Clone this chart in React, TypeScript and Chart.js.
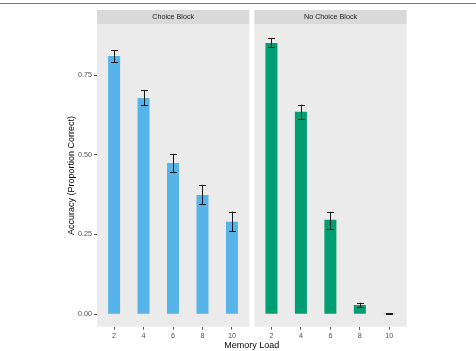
import React, { useEffect, useRef } from 'react';
import { Chart, registerables } from 'chart.js';

Chart.register(...registerables);

// ---- data ----
const LOADS = [2, 4, 6, 8, 10];
const PANELS = ['Choice Block', 'No Choice Block'];
const CHOICE_ACC = [0.81, 0.678, 0.474, 0.374, 0.29];
const CHOICE_LO = [0.79, 0.655, 0.446, 0.345, 0.26];
const CHOICE_HI = [0.828, 0.703, 0.503, 0.406, 0.322];
const NOCHOICE_ACC = [0.85, 0.635, 0.296, 0.029, 0.002];
const NOCHOICE_LO = [0.837, 0.613, 0.268, 0.023, 0.001];
const NOCHOICE_HI = [0.866, 0.657, 0.321, 0.036, 0.003];
const Y_TICKS = [0, 0.25, 0.5, 0.75];

// ---- layout of facets on a shared linear x scale ----
const PANEL_MIN = 0.84;
const PANEL_SPAN = 10.34;
const PANEL_GAP = 0.34;
const PANEL_OFFSET = PANEL_SPAN + PANEL_GAP;
const X_MIN = PANEL_MIN;
const X_MAX = PANEL_MIN + PANEL_OFFSET + PANEL_SPAN;
const Y_MIN = -0.039;
const Y_MAX = 0.909;

const FONT = '"Liberation Sans", Arial, Helvetica, sans-serif';
const ERR_LO = [CHOICE_LO, NOCHOICE_LO];
const ERR_HI = [CHOICE_HI, NOCHOICE_HI];

const facetPlugin = {
  id: 'facets',
  beforeDraw(chart: any) {
    const { ctx, chartArea, scales } = chart;
    const x = scales.x;
    ctx.save();
    // outer top rule
    ctx.strokeStyle = '#7a7a7a';
    ctx.lineWidth = 1;
    ctx.beginPath();
    ctx.moveTo(0, 3.5);
    ctx.lineTo(chart.width, 3.5);
    ctx.stroke();
    PANELS.forEach((name, i) => {
      const l = x.getPixelForValue(PANEL_MIN + i * PANEL_OFFSET);
      const r = x.getPixelForValue(PANEL_MIN + i * PANEL_OFFSET + PANEL_SPAN);
      ctx.fillStyle = '#EBEBEB';
      ctx.fillRect(l, chartArea.top, r - l, chartArea.bottom - chartArea.top);
      ctx.fillStyle = '#D9D9D9';
      ctx.fillRect(l, 10, r - l, chartArea.top - 10);
      ctx.fillStyle = '#1A1A1A';
      ctx.font = `7.2px ${FONT}`;
      ctx.textAlign = 'center';
      ctx.textBaseline = 'middle';
      ctx.fillText(name, (l + r) / 2, (10 + chartArea.top) / 2);
    });
    ctx.restore();
  },
};

const errorBarPlugin = {
  id: 'errorBars',
  afterDatasetsDraw(chart: any) {
    const { ctx, scales } = chart;
    const x = scales.x;
    const y = scales.y;
    ctx.save();
    ctx.strokeStyle = '#1A1A1A';
    ctx.lineWidth = 1;
    chart.data.datasets.forEach((ds: any, di: number) => {
      ds.data.forEach((pt: any, i: number) => {
        const px = Math.round(x.getPixelForValue(pt.x)) + 0.5;
        const yl = y.getPixelForValue(ERR_LO[di][i]);
        const yh = y.getPixelForValue(ERR_HI[di][i]);
        const cap = 3.5;
        ctx.beginPath();
        ctx.moveTo(px, yl);
        ctx.lineTo(px, yh);
        ctx.moveTo(px - cap, Math.round(yl) + 0.5);
        ctx.lineTo(px + cap, Math.round(yl) + 0.5);
        ctx.moveTo(px - cap, Math.round(yh) + 0.5);
        ctx.lineTo(px + cap, Math.round(yh) + 0.5);
        ctx.stroke();
      });
    });
    ctx.restore();
  },
};

export default function App() {
  const ref = useRef<HTMLCanvasElement | null>(null);

  useEffect(() => {
    if (!ref.current) return;
    const mk = (vals: number[], panel: number) =>
      LOADS.map((l, i) => ({ x: l + panel * PANEL_OFFSET, y: vals[i] }));
    const xTickValues = [0, 1].flatMap((p) => LOADS.map((l) => l + p * PANEL_OFFSET));

    const chart = new Chart(ref.current, {
      type: 'bar',
      data: {
        datasets: [
          {
            label: PANELS[0],
            data: mk(CHOICE_ACC, 0),
            backgroundColor: '#56B4E9',
            grouped: false,
            maxBarThickness: 12,
          } as any,
          {
            label: PANELS[1],
            data: mk(NOCHOICE_ACC, 1),
            backgroundColor: '#009E73',
            grouped: false,
            maxBarThickness: 12,
          } as any,
        ],
      },
      options: {
        animation: false,
        responsive: false,
        font: { family: FONT },
        layout: { padding: { left: 60, right: 69.3, top: 24.3, bottom: 0 } },
        plugins: {
          legend: { display: false },
          tooltip: { enabled: false },
        },
        scales: {
          x: {
            type: 'linear',
            min: X_MIN,
            max: X_MAX,
            offset: false,
            border: { display: false },
            grid: {
              offset: false,
              drawOnChartArea: false,
              drawTicks: true,
              tickLength: 3,
              tickColor: '#555',
              lineWidth: 1,
            },
            ticks: {
              font: { size: 7.2, family: FONT },
              color: '#4D4D4D',
              padding: 2,
              maxRotation: 0,
              autoSkip: false,
              callback: (v: any) => String(Math.round(v > PANEL_OFFSET ? v - PANEL_OFFSET : v)),
            },
            afterBuildTicks: (s: any) => {
              s.ticks = xTickValues.map((v) => ({ value: v }));
            },
            afterFit: (s: any) => {
              s.height = 24.3;
            },
            title: {
              display: true,
              text: 'Memory Load',
              color: '#000',
              font: { size: 9, family: FONT },
              padding: { top: 0, bottom: 0 },
            },
          } as any,
          y: {
            type: 'linear',
            min: Y_MIN,
            max: Y_MAX,
            border: { display: false },
            grid: {
              drawOnChartArea: false,
              drawTicks: true,
              tickLength: 3,
              tickColor: '#555',
              lineWidth: 1,
            },
            ticks: {
              font: { size: 7.2, family: FONT },
              color: '#4D4D4D',
              padding: 2,
              callback: (v: any) => Number(v).toFixed(2),
            },
            afterBuildTicks: (s: any) => {
              s.ticks = Y_TICKS.map((v) => ({ value: v }));
            },
            afterFit: (s: any) => {
              s.width = 37;
            },
            title: {
              display: true,
              text: 'Accuracy (Proportion Correct)',
              color: '#000',
              font: { size: 9, family: FONT },
              padding: { top: 6, bottom: 0 },
            },
          } as any,
        },
      } as any,
      plugins: [facetPlugin, errorBarPlugin],
    });
    return () => chart.destroy();
  }, []);

  return (
    <div style={{ position: 'absolute', left: 0, top: 0, width: 476, height: 351, background: '#fff' }}>
      <canvas ref={ref} width={476} height={351} style={{ display: 'block' }} />
    </div>
  );
}
